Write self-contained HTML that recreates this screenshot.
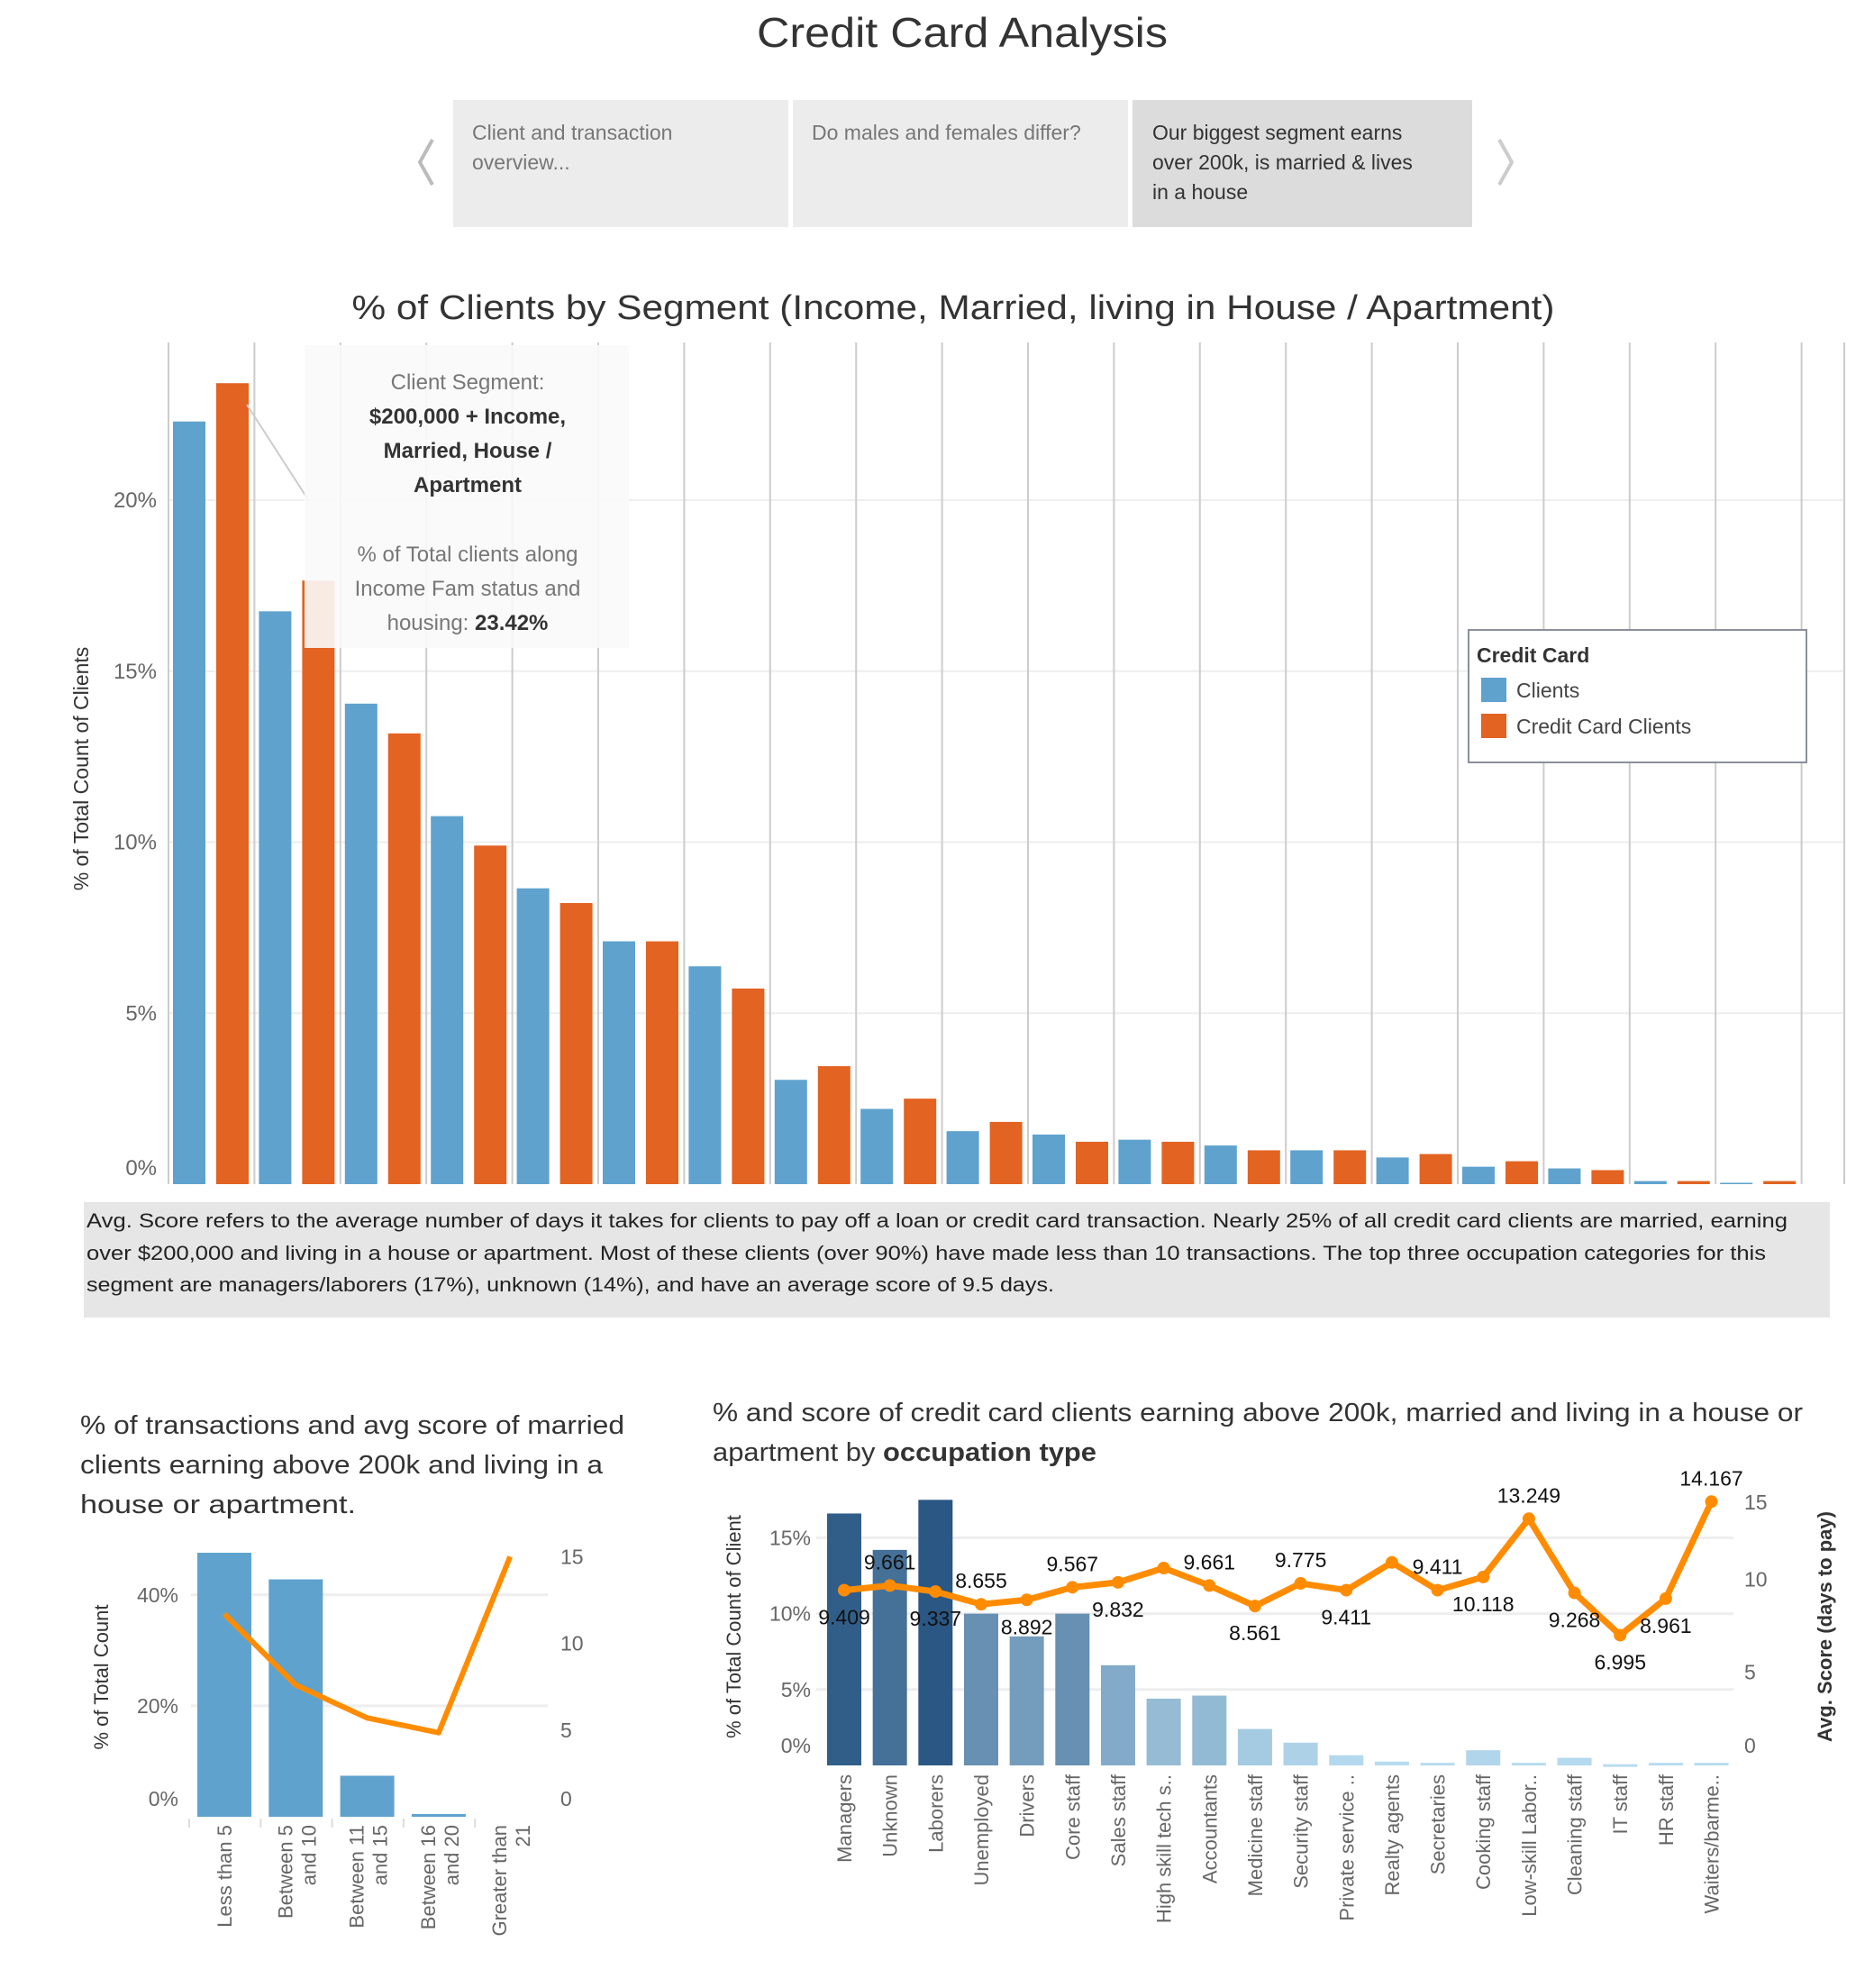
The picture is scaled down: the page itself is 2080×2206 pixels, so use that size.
<!DOCTYPE html>
<html><head><meta charset="utf-8"><style>
html,body{margin:0;padding:0;background:#fff;}
svg{display:block;font-family:"Liberation Sans",sans-serif;}
</style></head><body>
<svg id="root" width="2080" height="2206" viewBox="0 0 2080 2206" xmlns="http://www.w3.org/2000/svg">
<text x="1068" y="52" text-anchor="middle" font-size="46" fill="#333" textLength="456" lengthAdjust="spacingAndGlyphs">Credit Card Analysis</text>
<g>
<path d="M480,155 L466,180 L480,205" fill="none" stroke="#bbb" stroke-width="4"/>
<path d="M1664,155 L1678,180 L1664,205" fill="none" stroke="#ccc" stroke-width="4"/>
<g><rect x="503" y="111" width="372" height="141" fill="#ececec"/>
<text x="524" y="155" font-size="23" fill="#777">Client and transaction</text><text x="524" y="188" font-size="23" fill="#777">overview...</text></g>
<g><rect x="880" y="111" width="372" height="141" fill="#ececec"/>
<text x="901" y="155" font-size="23" fill="#777">Do males and females differ?</text></g>
<g><rect x="1257" y="111" width="377" height="141" fill="#dcdcdc"/>
<text x="1279" y="155" font-size="23" fill="#333">Our biggest segment earns</text><text x="1279" y="188" font-size="23" fill="#333">over 200k, is married &amp; lives</text><text x="1279" y="221" font-size="23" fill="#333">in a house</text></g>
</g>
<text x="1058" y="354" text-anchor="middle" font-size="38" fill="#333" textLength="1335" lengthAdjust="spacingAndGlyphs">% of Clients by Segment (Income, Married, living in House / Apartment)</text>
<g id="main"></g>
<text transform="translate(98,853) rotate(-90)" text-anchor="middle" font-size="23" fill="#333">% of Total Count of Clients</text>
<g>
<line x1="274" y1="449" x2="343" y2="556" stroke="#ccc" stroke-width="2"/>
<rect x="338" y="383" width="360" height="336" fill="rgba(250,250,250,0.9)"/>
<text x="519" y="432" text-anchor="middle" font-size="24" fill="#777">Client Segment:</text>
<text x="519" y="470" text-anchor="middle" font-size="24" font-weight="bold" fill="#333">$200,000 + Income,</text>
<text x="519" y="508" text-anchor="middle" font-size="24" font-weight="bold" fill="#333">Married, House /</text>
<text x="519" y="546" text-anchor="middle" font-size="24" font-weight="bold" fill="#333">Apartment</text>
<text x="519" y="623" text-anchor="middle" font-size="24" fill="#777">% of Total clients along</text>
<text x="519" y="661" text-anchor="middle" font-size="24" fill="#777">Income Fam status and</text>
<text x="519" y="699" text-anchor="middle" font-size="24" fill="#777">housing: <tspan font-weight="bold" fill="#333">23.42%</tspan></text>
</g>
<g>
<rect x="1630" y="699" width="375" height="147" fill="#fff" stroke="#8a9099" stroke-width="2"/>
<text x="1639" y="735" font-size="23" font-weight="bold" fill="#333">Credit Card</text>
<g><rect x="1644" y="752" width="28" height="27" fill="#5fa2ce"/><text x="1683" y="774" font-size="23" fill="#444">Clients</text></g>
<g><rect x="1644" y="792" width="28" height="27" fill="#e26322"/><text x="1683" y="814" font-size="23" fill="#444">Credit Card Clients</text></g>
</g>
<g>
<rect x="93" y="1334" width="1938" height="128" fill="#e6e6e6"/>
<text x="96" y="1369" font-size="22" fill="#222" textLength="1888" lengthAdjust="spacingAndGlyphs" transform="translate(0,-7)">Avg. Score refers to the average number of days it takes for clients to pay off a loan or credit card transaction. Nearly 25% of all credit card clients are married, earning</text>
<text x="96" y="1405" font-size="22" fill="#222" textLength="1864" lengthAdjust="spacingAndGlyphs" transform="translate(0,-7)">over $200,000 and living in a house or apartment. Most of these clients (over 90%) have made less than 10 transactions. The top three occupation categories for this</text>
<text x="96" y="1440" font-size="22" fill="#222" textLength="1074" lengthAdjust="spacingAndGlyphs" transform="translate(0,-7)">segment are managers/laborers (17%), unknown (14%), and have an average score of 9.5 days.</text>
</g>
<g transform="translate(0,-9)">
<g>
<text x="89" y="1600" font-size="29" fill="#333" textLength="604" lengthAdjust="spacingAndGlyphs">% of transactions and avg score of married</text>
<text x="89" y="1644" font-size="29" fill="#333" textLength="580" lengthAdjust="spacingAndGlyphs">clients earning above 200k and living in a</text>
<text x="89" y="1688" font-size="29" fill="#333" textLength="306" lengthAdjust="spacingAndGlyphs">house or apartment.</text>
</g>
<g id="tx"></g>
<text transform="translate(120,1870) rotate(-90)" text-anchor="middle" font-size="22" fill="#333">% of Total Count</text>
<g>
<text x="791" y="1586" font-size="29" fill="#333" textLength="1210" lengthAdjust="spacingAndGlyphs">% and score of credit card clients earning above 200k, married and living in a house or</text>
<text x="791" y="1630" font-size="29" fill="#333" textLength="426" lengthAdjust="spacingAndGlyphs">apartment by <tspan font-weight="bold">occupation type</tspan></text>
</g>
<g id="occ"></g>
<text transform="translate(822,1814) rotate(-90)" text-anchor="middle" font-size="22" fill="#333">% of Total Count of Client</text>
<text transform="translate(2033,1814) rotate(-90)" text-anchor="middle" font-size="22" font-weight="bold" fill="#333">Avg. Score (days to pay)</text>
</g>
</svg>
<script>
var segCats = ['S1','S2','S3','S4','S5','S6','S7','S8','S9','S10','S11','S12','S13','S14','S15','S16','S17','S18','S19'];
var clientsVals = [22.3,16.75,14.05,10.76,8.65,7.1,6.37,3.05,2.2,1.55,1.45,1.3,1.13,0.99,0.78,0.51,0.46,0.09,0.04];
var ccVals = [23.42,17.65,13.18,9.9,8.22,7.1,5.72,3.45,2.5,1.82,1.24,1.24,0.99,0.99,0.88,0.67,0.41,0.09,0.09];
var mainTicks = [0,5,10,15,20];

var txCats = [['Less than 5'],['Between 5','and 10'],['Between 11','and 15'],['Between 16','and 20'],['Greater than','21']];
var txPct = [47.6,42.8,7.4,0.5,0];
var txScore = [11.7,7.6,5.7,4.85,15.0];
var txTicksL = [0,20,40];
var txTicksR = [0,5,10,15];

var occCats = ['Managers','Unknown','Laborers','Unemployed','Drivers','Core staff','Sales staff','High skill tech s..','Accountants','Medicine staff','Security staff','Private service ..','Realty agents','Secretaries','Cooking staff','Low-skill Labor..','Cleaning staff','IT staff','HR staff','Waiters/barme..'];
var occPct = [16.6,14.2,17.5,10.0,8.5,10.0,6.6,4.4,4.6,2.4,1.5,0.67,0.25,0.17,1.0,0.17,0.5,0.08,0.17,0.17];
var occScore = [9.409,9.661,9.337,8.655,8.892,9.567,9.832,10.6,9.661,8.561,9.775,9.411,10.9,9.411,10.118,13.249,9.268,6.995,8.961,14.167];
var occLabels = ['9.409','9.661','9.337','8.655','8.892','9.567','9.832','','9.661','8.561','9.775','9.411','','9.411','10.118','13.249','9.268','6.995','8.961','14.167'];
var occLabelAbove = [false,true,false,true,false,true,false,true,true,false,true,false,true,true,false,true,false,false,false,true];
var occTicksL = [0,5,10,15];
var occTicksR = [0,5,10,15];

var NS='http://www.w3.org/2000/svg';
function mk(tag,attrs,parent){var e=document.createElementNS(NS,tag);for(var k in attrs)e.setAttribute(k,attrs[k]);parent.appendChild(e);return e;}

var main=document.getElementById('main');
var M0=1314, MK=37.95, MX0=187, MP=95.4;
function yMain(v){return M0-v*MK;}
function xPane(i){return MX0+i*MP;}
mainTicks.forEach(function(t){
  if(t>0){var g=mk('line',{x1:187,x2:2047,y1:yMain(t),y2:yMain(t),stroke:'#eee','stroke-width':2},main);
  
  }
  var tx=mk('text',{x:174,y:(t===0?yMain(t)-10:yMain(t)+8),'text-anchor':'end','font-size':24,fill:'#666'},main);
  tx.textContent=t+'%';
  
  
});
for(var i=0;i<=segCats.length;i++){
  var l=mk('line',{x1:xPane(i),x2:xPane(i),y1:380,y2:M0,stroke:'#ccc','stroke-width':2},main);
  
  
}
var rl=mk('line',{x1:2047,x2:2047,y1:380,y2:M0,stroke:'#ccc','stroke-width':2},main);


segCats.forEach(function(c,i){
  var b=mk('rect',{x:xPane(i)+5,y:yMain(clientsVals[i]),width:36,height:clientsVals[i]*MK,fill:'#5fa2ce'},main);
  
  
  var o=mk('rect',{x:xPane(i)+53,y:yMain(ccVals[i]),width:36,height:ccVals[i]*MK,fill:'#e26322'},main);
  
  
});

var tx=document.getElementById('tx');
var T0=2025, TKL=6.155, TKR=19.24, TX0=249, TP=79.3;
function yTL(v){return T0-v*TKL;}
function yTR(v){return T0-v*TKR;}
function xT(i){return TX0+i*TP;}
txTicksL.forEach(function(t){
  if(t>0){var g=mk('line',{x1:212,x2:608,y1:yTL(t),y2:yTL(t),stroke:'#eee','stroke-width':3},tx);
  
  }
  var e=mk('text',{x:198,y:(t===0?yTL(t)-12:yTL(t)+8),'text-anchor':'end','font-size':23,fill:'#666'},tx);
  e.textContent=t+'%';
  
  
});
txTicksR.forEach(function(t){
  var e=mk('text',{x:622,y:(t===0?yTR(t)-12:yTR(t)+8),'font-size':23,fill:'#666'},tx);
  e.textContent=t;
  
  
});
txCats.forEach(function(c,i){
  var b=mk('rect',{x:xT(i)-30,y:yTL(txPct[i]),width:60,height:txPct[i]*TKL,fill:'#5fa2ce'},tx);
  
  
  var tk=mk('line',{x1:xT(i)-39,x2:xT(i)-39,y1:T0+2,y2:T0+12,stroke:'#ddd','stroke-width':2},tx);
  
  
  c.forEach(function(s,j){
    var off=(c.length===1?0:(j===0?-12:14));
    var t=mk('text',{transform:'translate('+(xT(i)+off+8)+',2034) rotate(-90)','text-anchor':'end','font-size':22,fill:'#666'},tx);
    t.textContent=s;
    
    
  });
});
var pts=txScore.map(function(v,i){return xT(i)+','+yTR(v);}).join(' ');
var tl=mk('polyline',{points:pts,fill:'none',stroke:'#ff8c00','stroke-width':6,'stroke-linejoin':'round'},tx);



var occ=document.getElementById('occ');
var O0=1968, OKL=16.84, OKR=20.66, OX0=937, OP=50.66;
function yOL(v){return O0-v*OKL;}
function yOR(v){return O0-v*OKR;}
function xO(i){return OX0+i*OP;}
occTicksL.forEach(function(t){
  if(t>0){var g=mk('line',{x1:906,x2:1924,y1:yOL(t),y2:yOL(t),stroke:'#eee','stroke-width':3},occ);
  
  }
  var e=mk('text',{x:900,y:(t===0?yOL(t)-14:yOL(t)+8),'text-anchor':'end','font-size':23,fill:'#666'},occ);
  e.textContent=t+'%';
  
  
});
occTicksR.forEach(function(t){
  var yy=(t===0?yOR(t)-14:(t===15?yOR(t)+26:yOR(t)+8));
  var e=mk('text',{x:1936,y:yy,'font-size':23,fill:'#666'},occ);
  e.textContent=t;
  
  
});
function lerp(a,b,t){return Math.round(a+(b-a)*t);}
var maxP=Math.max.apply(null,occPct);
occCats.forEach(function(c,i){
  var f=occPct[i]/maxP;
  var col='rgb('+lerp(185,42,f)+','+lerp(221,87,f)+','+lerp(241,131,f)+')';
  var b=mk('rect',{x:xO(i)-19,y:yOL(occPct[i]),width:38,height:Math.max(occPct[i]*OKL,3),fill:col},occ);
  
  
  var t=mk('text',{transform:'translate('+(xO(i)+8)+',1978) rotate(-90)','text-anchor':'end','font-size':22,fill:'#666'},occ);
  t.textContent=c;
  
  
});
var opts=occScore.map(function(v,i){return xO(i)+','+yOR(v);}).join(' ');
var ol=mk('polyline',{points:opts,fill:'none',stroke:'#ff8c00','stroke-width':7,'stroke-linejoin':'round'},occ);


occScore.forEach(function(v,i){
  var d=mk('circle',{cx:xO(i),cy:yOR(v),r:7,fill:'#ff8c00'},occ);
  
  
  if(occLabels[i]){
    var t=mk('text',{x:xO(i),y:(occLabelAbove[i]?yOR(v)-18:yOR(v)+38),'text-anchor':'middle','font-size':23,fill:'#111'},occ);
    t.textContent=occLabels[i];
    
    
  }
});
</script>
</body></html>
